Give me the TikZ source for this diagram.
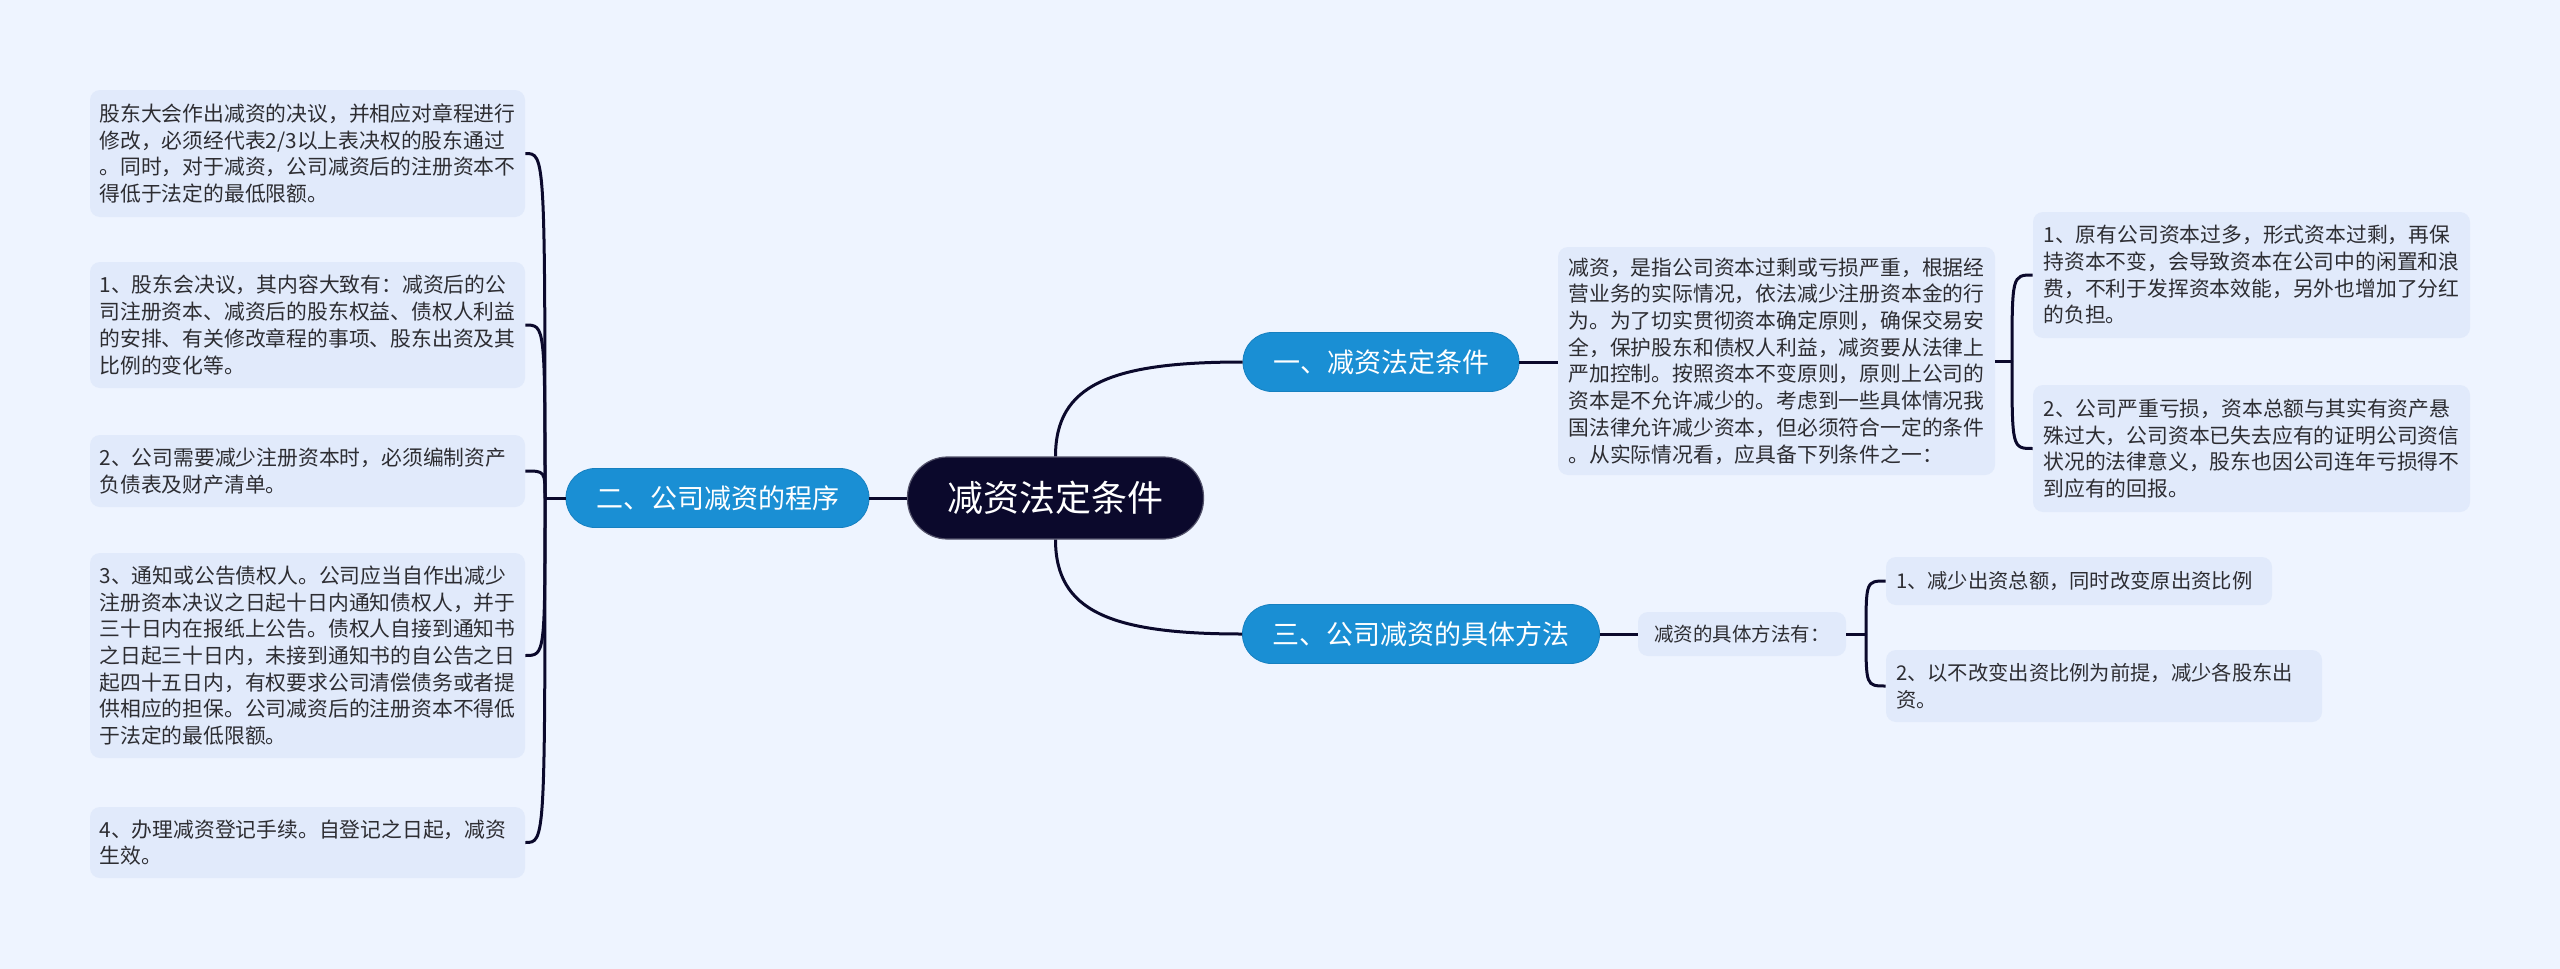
\documentclass[tikz,border=0pt]{standalone}
\usepackage{fontspec}
\newfontfamily\cjk{Noto Sans CJK SC}
\definecolor{bgc}{RGB}{238,244,255}
\definecolor{leafc}{RGB}{225,234,251}
\definecolor{txtc}{RGB}{45,45,50}
\definecolor{bluec}{RGB}{26,143,212}
\definecolor{blueb}{RGB}{22,128,192}
\definecolor{rootc}{RGB}{11,9,44}
\definecolor{linec}{RGB}{11,9,44}
\begin{document}
\begin{tikzpicture}[x=0.5pt,y=-0.5pt,
  leaf/.style={fill=leafc, rounded corners=5pt, text=txtc, align=left, inner xsep=4.75pt, inner ysep=0pt, anchor=center, font=\cjk\fontsize{10.4}{13.35}\selectfont},
  lvl/.style={fill=bluec, draw=blueb, line width=0.4pt, text=white, rounded corners=14.5pt, minimum height=29.5pt, inner xsep=15pt, inner ysep=0pt, font=\cjk\fontsize{13.5}{16}\selectfont},
  rootbox/.style={fill=rootc, draw=rootc!70!white, line width=0.6pt, text=white, rounded corners=20pt, minimum height=41pt, inner xsep=20pt, inner ysep=0pt, font=\cjk\fontsize{18}{22}\selectfont},
  conn/.style={draw=linec, line width=1.5pt}
]
\fill[bgc] (0,0) rectangle (2560,969);
\useasboundingbox (0,0) rectangle (2560,969);

% root and level-1
\node[rootbox] (root) at (1055.5,498) {减资法定条件};
\node[lvl] (A) at (1381,362) {一、减资法定条件};
\node[lvl] (B) at (717.5,498) {二、公司减资的程序};
\node[lvl] (C) at (1421,634) {三、公司减资的具体方法};

% left leaves
\node[leaf, text width=208pt, minimum height=63.5pt] (c0) at (307.5,153.5) {股东大会作出减资的决议，并相应对章程进行\\修改，必须经代表2/3以上表决权的股东通过\\。同时，对于减资，公司减资后的注册资本不\\得低于法定的最低限额。};
\node[leaf, text width=208pt, minimum height=63pt] (c1) at (307.5,325) {1、股东会决议，其内容大致有：减资后的公\\司注册资本、减资后的股东权益、债权人利益\\的安排、有关修改章程的事项、股东出资及其\\比例的变化等。};
\node[leaf, text width=208pt, minimum height=36pt] (c2) at (307.5,471) {2、公司需要减少注册资本时，必须编制资产\\负债表及财产清单。};
\node[leaf, text width=208pt, minimum height=102.5pt] (c3) at (307.5,655.5) {3、通知或公告债权人。公司应当自作出减少\\注册资本决议之日起十日内通知债权人，并于\\三十日内在报纸上公告。债权人自接到通知书\\之日起三十日内，未接到通知书的自公告之日\\起四十五日内，有权要求公司清偿债务或者提\\供相应的担保。公司减资后的注册资本不得低\\于法定的最低限额。};
\node[leaf, text width=208pt, minimum height=35.5pt] (c4) at (307.5,842.5) {4、办理减资登记手续。自登记之日起，减资\\生效。};

% right leaves
\node[leaf, text width=208pt, inner xsep=5.25pt, minimum height=114pt] (T) at (1776.5,361) {减资，是指公司资本过剩或亏损严重，根据经\\营业务的实际情况，依法减少注册资本金的行\\为。为了切实贯彻资本确定原则，确保交易安\\全，保护股东和债权人利益，减资要从法律上\\严加控制。按照资本不变原则，原则上公司的\\资本是不允许减少的。考虑到一些具体情况我\\国法律允许减少资本，但必须符合一定的条件\\。从实际情况看，应具备下列条件之一：};
\node[leaf, text width=208pt, inner xsep=5.25pt, minimum height=63pt] (R1) at (2251.5,275) {1、原有公司资本过多，形式资本过剩，再保\\持资本不变，会导致资本在公司中的闲置和浪\\费，不利于发挥资本效能，另外也增加了分红\\的负担。};
\node[leaf, text width=208pt, inner xsep=5.25pt, minimum height=63.5pt] (R2) at (2251.5,448.5) {2、公司严重亏损，资本总额与其实有资产悬\\殊过大，公司资本已失去应有的证明公司资信\\状况的法律意义，股东也因公司连年亏损得不\\到应有的回报。};

\node[leaf, align=center, minimum width=104pt, minimum height=22pt, font=\cjk\fontsize{9.75}{12}\selectfont] (M) at (1742,634) {减资的具体方法有：};
\node[leaf, text width=183pt, inner xsep=5pt, minimum height=24pt, font=\cjk\fontsize{10.15}{13.35}\selectfont] (S1) at (2079,581) {1、减少出资总额，同时改变原出资比例};
\node[leaf, text width=208pt, inner xsep=5pt, minimum height=36pt, font=\cjk\fontsize{10.15}{13.35}\selectfont] (S2) at (2104,686) {2、以不改变出资比例为前提，减少各股东出\\资。};

% junction points
\coordinate (JL) at (545,498);
\coordinate (JT) at (2012,361);
\coordinate (JM) at (1866,634);

% connectors from root
\draw[conn] (root.west) -- (B.east);
\draw[conn] (root.north) .. controls (1055.5,385) and (1110,362) .. (A.west);
\draw[conn] (root.south) .. controls (1055.5,611) and (1110,634) .. (C.west);
\draw[conn] (A.east) -- (A.east -| T.west);
\draw[conn] (C.east) -- (M.west);

% left bracket
\draw[conn] (B.west) -- (JL);
\foreach \c in {c0,c1,c2,c3,c4}{
  \draw[conn] (JL) .. controls (JL |- \c.east) .. (\c.east);
}
% right bracket T
\draw[conn] (T.east) -- (JT);
\foreach \c in {R1,R2}{
  \draw[conn] (JT) .. controls (JT |- \c.west) .. (\c.west);
}
% right bracket M
\draw[conn] (M.east) -- (JM);
\foreach \c in {S1,S2}{
  \draw[conn] (JM) .. controls (JM |- \c.west) .. (\c.west);
}
\end{tikzpicture}
\end{document}
